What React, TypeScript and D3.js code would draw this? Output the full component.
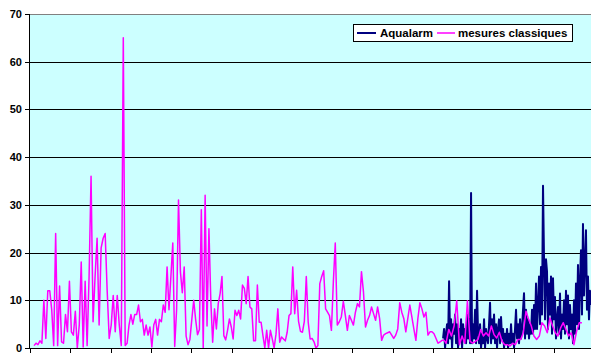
import { useRef, useEffect } from 'react';
import * as d3 from 'd3';

// "mesures classiques" readings, in order
const classique = [
  0.5, 1, 0.7, 1.5, 1, 10, 2, 12, 12, 8, 0.5, 24, 0.5, 13, 1.3, 1, 7, 3.4, 14, 3.4,
  2.7, 7.7, 0, 4.8, 18, 0.2, 14, 0.5, 15, 36, 5.5, 15, 23, 4.8, 21, 23, 24, 12, 2, 4.8,
  11, 3.4, 11, 4.8, 0.5, 65, 0.5, 1, 4.8, 7, 5, 7, 7, 9, 5.5, 6, 2.7, 4.8, 2.7, 4.4,
  0.2, 4.8, 6, 2.7, 6, 5.5, 9, 7.5, 17, 8,
  15, 22, 0.3, 8, 31, 16, 11.6, 17, 2.5, 0.7, 1.8, 6, 10, 6, 2.8, 3.9, 29, 0, 32, 4.6, 25,
  10, 1.2, 8.2, 4, 9.3, 11.4, 15, 2.6, 1.7, 3.7, 6.1, 4.4, 1.9, 7.9, 6.8, 7.9, 6.1, 13.2, 12.5, 9.3,
  15, 8.6, 8.2, 1.5, 1.5, 13.2, 5.4, 5.4, 2.6, 0, 3.7, 0, 3.7, 1.9, 0, 2.9, 8.2, 1.2, 2.3, 1.9,
  1.5, 3.3, 6.8, 7.2, 17,
  7.2, 12.1, 5.6, 3.5, 3.3, 5.6, 15, 5.4, 1.9, 2, 1.3, 0, 0.5, 13.5, 15, 16.2, 8.2, 7.5, 6.8, 3.7,
  13.8, 22,
  4.8, 5.5, 6.5, 9.8, 6.8, 3.7, 6.8, 5.8, 4.8, 7.5, 9.3, 8.6, 16, 11.7, 4.4, 5.8, 6.8, 8.6, 7.2, 5.8,
  8.6, 6.2, 1.6, 2.7, 3, 3.2, 3.4, 2.7, 2, 2.7, 4, 9.5, 7.5, 6.2, 3.4, 6.2, 9, 6.5, 4, 1.6,
  6.2, 9.5, 8.2, 6.5, 7.5, 2.7, 3.4, 3.4, 3, 2, 1, 1.3, 1.6, 1.6, 1,
  3.9, 2.5, 4.6, 9.9, 0.7, 2.5, 1, 9.9, 1.4, 1, 1.4, 1.8, 3.9, 2.5, 3.2, 2.5, 4.6, 2.8, 2.1, 3.3,
  1.4, 0.7, 0.7, 0.4, 1, 0.7, 1.8, 1.8, 3.2, 7.7, 6, 4.6, 2.5, 1.8, 2.5, 5.3, 4.6, 3.2, 6.3, 4.6,
  3.2, 2.5, 4.2, 5.3, 3.9, 2.5, 3.2, 0.7, 3.5, 5.3, 5.3,
];
// day of some readings (irregular sampling)
const classiqueIdx = [0, 29, 45, 74, 90, 135, 157, 212, 263];
const classiqueDay = [2, 30.3, 46.3, 73.7, 88.8, 130.4, 151.5, 206.5, 273.9];

// Aqualarm, continuous recording
const aqualarm = [
  2, 4, 0, 3, 5, 1, 14, 2, 6, 0, 5, 3, 7, 1, 5, 0, 4, 2, 6, 0,
  5, 2, 4, 1, 7, 2, 6, 1, 32.5, 1, 5, 2, 8, 1, 12, 3, 1, 5, 0, 3,
  1, 6, 0, 4, 2, 1, 5, 9.5, 1, 6, 2, 7, 1, 5, 0, 4, 6, 1, 6.5, 2,
  4, 0, 3, 1, 4, 0, 3, 1, 5, 1, 3, 0, 4, 8, 2, 5, 1, 6, 2, 4,
  8, 11.5, 2, 8, 3, 6, 2, 5, 3, 8, 3, 9, 4, 13.5, 4, 9, 15, 5, 17, 7,
  34, 19, 6, 18.6, 16, 4, 13.5, 7, 15, 3, 14.6, 6, 10.7, 2, 6, 8.6, 3, 11.4, 2, 7,
  4, 10, 3, 12, 5, 11, 2, 9, 4, 7, 1, 10, 3, 13.5, 5, 17.4, 4, 14, 20.5, 7,
  26, 11, 18, 24.7, 8, 15, 6, 12, 9,
];
const aqualarmDays = [205, 278.4];

const yTicks = [0, 10, 20, 30, 40, 50, 60, 70];
const xTickDays = [0, 20, 40, 60, 80, 100, 120, 140, 160, 180, 200, 220, 240, 260, 280];
const seriesNames = ['Aqualarm', 'mesures classiques'];
const seriesColors = ['#000080', '#FF00FF'];

export default function App() {
  const ref = useRef<SVGSVGElement>(null);

  useEffect(() => {
    if (!ref.current) return;
    const svg = d3.select(ref.current);
    svg.selectAll('*').remove();

    const left = 30, top = 14, bottom = 348;
    const x = d3.scaleLinear().domain([0, 280]).range([left, left + 280 * 2.015]);
    const y = d3.scaleLinear().domain([0, 70]).range([bottom, top]);
    const font = "'Liberation Sans', Arial, sans-serif";
    const crisp = (v: number) => Math.round(v) + 0.5;

    // plot area
    svg.append('rect')
      .attr('x', left).attr('y', top)
      .attr('width', x(280) - left).attr('height', bottom - top)
      .attr('fill', '#CCFFFF');

    // grid lines
    svg.append('g').selectAll('line')
      .data(yTicks.filter(t => t > 0))
      .enter().append('line')
      .attr('x1', left).attr('x2', x(280))
      .attr('y1', d => crisp(y(d))).attr('y2', d => crisp(y(d)))
      .attr('stroke', d => (d === 70 ? '#808080' : '#000'))
      .attr('stroke-width', 1);

    // series
    const classDay = d3.scaleLinear().domain(classiqueIdx).range(classiqueDay);
    const aqDay = d3.scaleLinear().domain([0, aqualarm.length - 1]).range(aqualarmDays);

    const line = d3.line<[number, number]>().x(d => x(d[0])).y(d => y(d[1]));

    svg.append('path')
      .datum(aqualarm.map((v, i) => [aqDay(i), v] as [number, number]))
      .attr('d', line)
      .attr('fill', 'none')
      .attr('stroke', seriesColors[0])
      .attr('stroke-width', 2)
      .attr('stroke-linejoin', 'round');

    svg.append('path')
      .datum(classique.map((v, i) => [classDay(i), v] as [number, number]))
      .attr('d', line)
      .attr('fill', 'none')
      .attr('stroke', seriesColors[1])
      .attr('stroke-width', 1.5)
      .attr('stroke-linejoin', 'round');

    // y axis
    const yAxis = svg.append('g');
    yAxis.append('line')
      .attr('x1', crisp(left) - 1).attr('x2', crisp(left) - 1)
      .attr('y1', top).attr('y2', bottom + 1)
      .attr('stroke', '#000');
    yAxis.selectAll('line.tick')
      .data(yTicks)
      .enter().append('line')
      .attr('class', 'tick')
      .attr('x1', left - 5).attr('x2', left)
      .attr('y1', d => crisp(y(d))).attr('y2', d => crisp(y(d)))
      .attr('stroke', '#000');
    yAxis.selectAll('text')
      .data(yTicks)
      .enter().append('text')
      .attr('x', 22)
      .attr('y', d => y(d))
      .attr('dy', '0.36em')
      .attr('text-anchor', 'end')
      .attr('font-family', font)
      .attr('font-weight', 'bold')
      .attr('font-size', 11)
      .attr('fill', '#000')
      .text(d => d);

    // x axis
    const xAxis = svg.append('g');
    xAxis.append('line')
      .attr('x1', left - 1).attr('x2', x(280))
      .attr('y1', crisp(bottom)).attr('y2', crisp(bottom))
      .attr('stroke', '#000');
    xAxis.selectAll('line.tick')
      .data(xTickDays)
      .enter().append('line')
      .attr('class', 'tick')
      .attr('x1', d => crisp(x(d))).attr('x2', d => crisp(x(d)))
      .attr('y1', bottom).attr('y2', bottom + 5)
      .attr('stroke', '#000');

    // legend
    const lg = svg.append('g');
    lg.append('rect')
      .attr('x', 353.5).attr('y', 24.5)
      .attr('width', 219).attr('height', 17)
      .attr('fill', '#fff').attr('stroke', '#000');
    const items = [
      { x1: 357, x2: 376, tx: 380 },
      { x1: 437, x2: 455, tx: 458 },
    ];
    items.forEach((it, i) => {
      lg.append('line')
        .attr('x1', it.x1).attr('x2', it.x2)
        .attr('y1', 33).attr('y2', 33)
        .attr('stroke', seriesColors[i]).attr('stroke-width', i === 0 ? 2 : 1.5);
      lg.append('text')
        .attr('x', it.tx).attr('y', 37)
        .attr('font-family', font)
        .attr('font-weight', 'bold')
        .attr('font-size', 11.5)
        .attr('fill', '#000')
        .text(seriesNames[i]);
    });
  }, []);

  return (
    <svg
      ref={ref}
      width={591}
      height={360}
      style={{ position: 'absolute', left: 0, top: 0, background: '#fff' }}
    />
  );
}
